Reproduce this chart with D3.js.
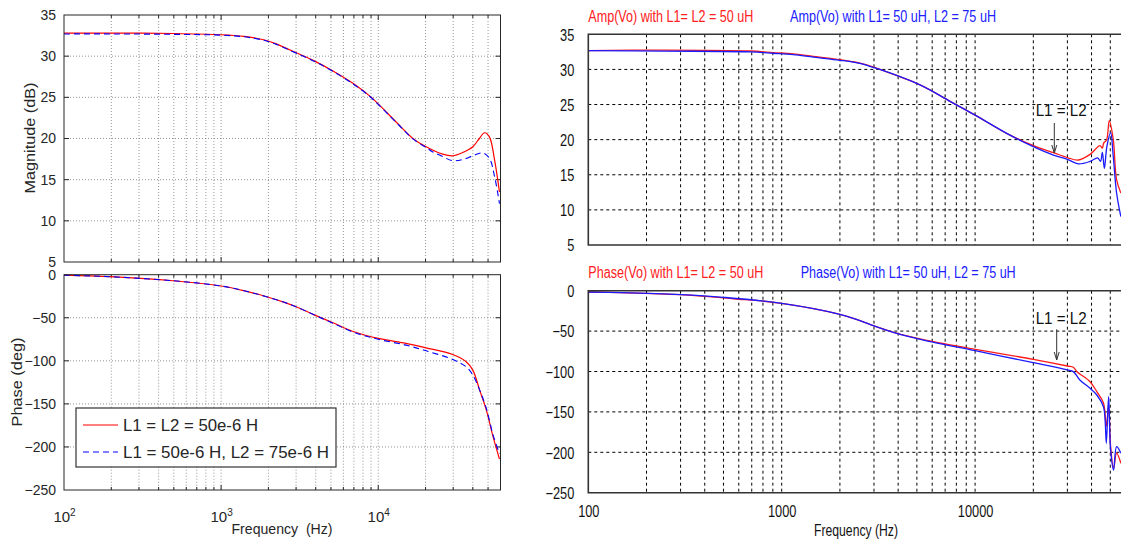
<!DOCTYPE html>
<html><head><meta charset="utf-8">
<script src="https://cdn.jsdelivr.net/npm/d3@7"></script>
<style>body{margin:0;background:#fff;} svg{display:block;font-family:Arial,"Liberation Sans",sans-serif;}</style>
</head><body><svg id="c" width="1121" height="547"></svg>
<script>
// ---------------- DATA ----------------
// Left (MATLAB-style) magnitude, dB
const lMagRedF  = [100,200,500,1000,1400,1700,1945,2200,2500,2985,3940,5150,6900,9040,10000,13650,16630,20170,25700,29800,34500,40000,44000,47450,51000,55000,59100];
const lMagRedV  = [32.8,32.8,32.75,32.6,32.4,32.15,31.9,31.55,31.1,30.45,29.4,28.2,26.7,25.0,24.2,21.6,20.0,19.0,18.1,17.9,18.3,19.0,20.0,20.7,20.2,17.4,13.5];
const lMagBlueF = [100,200,500,1000,1400,1700,1945,2200,2500,2985,3940,5150,6900,9040,10000,13650,16630,20170,22100,25700,29800,34500,40000,46300,51000,55000,59100];
const lMagBlueV = [32.7,32.7,32.65,32.55,32.35,32.1,31.85,31.5,31.05,30.4,29.35,28.15,26.65,24.95,24.15,21.55,19.95,18.9,18.4,17.8,17.3,17.45,17.9,18.25,17.6,15.4,12.1];
// Left phase, deg
const lPhRedF  = [100,196,495,1000,1400,1945,2500,3000,3940,5150,7000,10000,15000,20170,29800,36300,40000,44200,48700,53800,59100];
const lPhRedV  = [-0.5,-2.3,-7,-13.1,-18.6,-25.6,-31.8,-37.2,-46.9,-55.8,-66.3,-74,-79.8,-84.9,-92.6,-101,-110.8,-134,-157,-188,-214];
const lPhBlueF = [100,196,495,1000,1400,1945,2500,3000,3940,5150,7000,10000,15000,20170,29800,36300,40000,44200,48700,53800,59100];
const lPhBlueV = [-0.5,-2.3,-7,-13.1,-18.6,-25.6,-31.8,-37.2,-46.9,-56.3,-67,-75,-81.8,-88.4,-98.4,-107,-116.6,-134,-155,-186,-207.7];
// Right (simulator-style) magnitude, dB
const rMagRedF  = [100,247,689,904,1148,1456,1700,2000,2270,2540,2850,3220,5190,7710,10000,14560,20000,25400,30000,34200,39300,44200,45500,46200,47900,49400,51800,53900,56700];
const rMagRedV  = [32.67,32.75,32.62,32.4,32.2,31.85,31.65,31.4,31.15,30.9,30.5,30.0,27.8,25.2,23.5,20.9,19.15,18.15,17.45,17.1,17.9,19.15,18.8,19.5,20.0,22.7,20.0,14.3,12.4];
const rMagBlueF = [100,247,689,904,1148,1456,1700,2000,2270,2540,2850,3220,5190,7710,10000,14560,20000,25400,30000,34200,39300,43000,44500,45500,46600,48000,50200,51800,53900,56700];
const rMagBlueV = [32.67,32.6,32.5,32.3,32.1,31.75,31.55,31.3,31.1,30.85,30.45,30.0,27.8,25.2,23.5,20.9,19.0,17.8,17.2,16.55,16.9,17.4,16.9,18.2,15.9,19.0,21.0,17.6,12.4,9.05];
// Right phase, deg
const rPhRedF  = [100,146,300,499,600,700,1000,2000,2540,3000,3780,4500,5620,10000,20000,30000,32200,33600,39300,42600,46100,47700,49000,50200,52000,53900,56700];
const rPhRedV  = [-1.6,-2.4,-4.9,-8.8,-10.6,-11.6,-15.6,-29.2,-37.1,-43.5,-51.5,-56.3,-61.5,-72.5,-84.9,-93.2,-94.8,-100.2,-112.6,-125,-139,-168,-143,-193,-220,-201,-213.6];
const rPhBlueF = [100,146,300,499,1000,2000,2540,3000,3780,4500,5620,10000,20000,30000,32200,34800,39300,42600,46100,47000,47700,49000,50200,52000,53900,56700];
const rPhBlueV = [-1.6,-2.4,-4.9,-8.2,-15.6,-29.2,-37.1,-43.5,-51.5,-56.5,-62.0,-74.3,-89.1,-98.1,-100.2,-110.5,-120.8,-129.1,-143.6,-160,-188.9,-131,-197,-222,-193,-201];

const magTicks = [5,10,15,20,25,30,35];
const phTicks  = [-250,-200,-150,-100,-50,0];
const leftXTicks  = [100,1000,10000];
const rightXTicks = [100,1000,10000];
const legendLabels = ["L1 = L2 = 50e-6 H","L1 = 50e-6 H, L2 = 75e-6 H"];
const rightTitlesAmp = ["Amp(Vo) with L1= L2 = 50 uH","Amp(Vo) with L1= 50 uH, L2 = 75 uH"];
const rightTitlesPh  = ["Phase(Vo) with L1= L2 = 50 uH","Phase(Vo) with L1= 50 uH, L2 = 75 uH"];

const zip = (f,v) => f.map((d,i)=>({f:d,v:v[i]}));
const svg = d3.select('#c');
const smooth = d3.curveCatmullRom.alpha(0.5);

// ---------------- LEFT PANEL ----------------
const xL = d3.scaleLog().domain([100,60000]).range([64,500.5]);
const yLm = d3.scaleLinear().domain([5,35]).range([262,15]);
const yLp = d3.scaleLinear().domain([-250,0]).range([490,274.7]);
const gridTicksX = xL.ticks().filter(t=>t>100 && t<60000);

function leftAxes(y, ticks, x0, x1) {
  const g = svg.append('g');
  const yTop = y.range()[1], yBot = y.range()[0];
  g.selectAll('.gx').data(gridTicksX).enter().append('line')
    .attr('x1',d=>xL(d)).attr('x2',d=>xL(d)).attr('y1',yTop).attr('y2',yBot)
    .attr('stroke','#7a7a7a').attr('stroke-width',0.8).attr('stroke-dasharray','1,2');
  g.selectAll('.gy').data(ticks.slice(1,-1)).enter().append('line')
    .attr('x1',x0).attr('x2',x1).attr('y1',d=>y(d)).attr('y2',d=>y(d))
    .attr('stroke','#7a7a7a').attr('stroke-width',0.8).attr('stroke-dasharray','1,2');
  const minor = xL.ticks();
  minor.forEach(t=>{
    if (t<=100 || t>=60000) return;
    const len = leftXTicks.includes(t) ? 5 : 3;
    g.append('line').attr('x1',xL(t)).attr('x2',xL(t)).attr('y1',yBot).attr('y2',yBot-len).attr('stroke','#262626');
    g.append('line').attr('x1',xL(t)).attr('x2',xL(t)).attr('y1',yTop).attr('y2',yTop+len).attr('stroke','#262626');
  });
  ticks.slice(1,-1).forEach(t=>{
    g.append('line').attr('x1',x0).attr('x2',x0+5).attr('y1',y(t)).attr('y2',y(t)).attr('stroke','#262626');
    g.append('line').attr('x1',x1).attr('x2',x1-5).attr('y1',y(t)).attr('y2',y(t)).attr('stroke','#262626');
  });
  const ax = g.append('g').attr('transform',`translate(${x0},0)`)
    .call(d3.axisLeft(y).tickValues(ticks).tickSize(0).tickPadding(8));
  ax.select('.domain').remove();
  ax.selectAll('text').attr('font-size',14).attr('font-family','Arial,"Liberation Sans",sans-serif').attr('fill','#262626');
  return g;
}
leftAxes(yLm, magTicks, 64, 500.5);
leftAxes(yLp, phTicks, 64, 500.5);

const lineLm = d3.line().x(d=>xL(d.f)).y(d=>yLm(d.v)).curve(smooth);
const lineLp = d3.line().x(d=>xL(d.f)).y(d=>yLp(d.v)).curve(smooth);
svg.append('path').attr('d',lineLm(zip(lMagRedF,lMagRedV))).attr('fill','none').attr('stroke','#ff0000').attr('stroke-width',1.2);
svg.append('path').attr('d',lineLm(zip(lMagBlueF,lMagBlueV))).attr('fill','none').attr('stroke','#0000ff').attr('stroke-width',1.1).attr('stroke-dasharray','6,4');
svg.append('path').attr('d',lineLp(zip(lPhRedF,lPhRedV))).attr('fill','none').attr('stroke','#ff0000').attr('stroke-width',1.2);
svg.append('path').attr('d',lineLp(zip(lPhBlueF,lPhBlueV))).attr('fill','none').attr('stroke','#0000ff').attr('stroke-width',1.1).attr('stroke-dasharray','6,4');

[[15,262],[274.7,490]].forEach(([t,b])=>{
  svg.append('rect').attr('x',64).attr('y',t).attr('width',500.5-64).attr('height',b-t)
    .attr('fill','none').attr('stroke','#262626').attr('stroke-width',1);
});

const axL = svg.append('g').attr('transform','translate(0,505)')
  .call(d3.axisBottom(xL).tickValues(leftXTicks).tickSize(0).tickFormat(()=>''));
axL.select('.domain').remove();
axL.selectAll('text').each(function(d){
  const t = d3.select(this).attr('font-size',15).attr('fill','#262626').attr('dy','0.9em').attr('font-family','Arial,"Liberation Sans",sans-serif');
  t.text('10');
  t.append('tspan').attr('font-size',10).attr('dy',-6).text(Math.round(Math.log10(d)));
});
svg.append('text').attr('x',282).attr('y',534).attr('text-anchor','middle').attr('font-size',15)
  .attr('textLength',101).attr('lengthAdjust','spacingAndGlyphs').attr('fill','#262626').attr('xml:space','preserve').text('Frequency  (Hz)');
svg.append('text').attr('transform','translate(35,138) rotate(-90)').attr('text-anchor','middle').attr('font-size',15)
  .attr('textLength',111).attr('lengthAdjust','spacingAndGlyphs').attr('fill','#262626').text('Magnitude (dB)');
svg.append('text').attr('transform','translate(22,382) rotate(-90)').attr('text-anchor','middle').attr('font-size',15)
  .attr('textLength',89).attr('lengthAdjust','spacingAndGlyphs').attr('fill','#262626').text('Phase (deg)');

const lg = svg.append('g');
lg.append('rect').attr('x',76).attr('y',408).attr('width',260).attr('height',59).attr('fill','#fff').attr('stroke','#333').attr('stroke-width',1.2);
lg.append('line').attr('x1',83).attr('x2',118).attr('y1',425).attr('y2',425).attr('stroke','#ff0000').attr('stroke-width',1.2);
lg.append('line').attr('x1',83).attr('x2',118).attr('y1',452).attr('y2',452).attr('stroke','#0000ff').attr('stroke-width',1.1).attr('stroke-dasharray','6,4');
lg.append('text').attr('x',123).attr('y',431).attr('font-size',17).attr('textLength',135).attr('lengthAdjust','spacingAndGlyphs').attr('fill','#262626').text(legendLabels[0]);
lg.append('text').attr('x',123).attr('y',458).attr('font-size',17).attr('textLength',206).attr('lengthAdjust','spacingAndGlyphs').attr('fill','#262626').text(legendLabels[1]);

// ---------------- RIGHT PANEL ----------------
const xR = d3.scaleLog().domain([100,60000]).range([588.3,1125.6]);
const yRm = d3.scaleLinear().domain([5,35]).range([245,34.3]);
const yRp = d3.scaleLinear().domain([-250,0]).range([492.7,290.7]);
const gridR = xR.ticks().filter(t=>t>100 && t<60000);
const rFont = 'Arial,"Liberation Sans",sans-serif';

function rightAxes(y, ticks) {
  const g = svg.append('g');
  const yTop = y.range()[1], yBot = y.range()[0];
  g.selectAll('.gx').data(gridR).enter().append('line')
    .attr('x1',d=>xR(d)).attr('x2',d=>xR(d)).attr('y1',yTop).attr('y2',yBot)
    .attr('stroke','#000').attr('stroke-width',1).attr('stroke-dasharray','3,3');
  g.selectAll('.gy').data(ticks.slice(1,-1)).enter().append('line')
    .attr('x1',588.3).attr('x2',1125).attr('y1',d=>y(d)).attr('y2',d=>y(d))
    .attr('stroke','#000').attr('stroke-width',1).attr('stroke-dasharray','3,3');
  const ax = g.append('g').attr('transform','translate(588.3,0)')
    .call(d3.axisLeft(y).tickValues(ticks).tickSize(0));
  ax.select('.domain').remove();
  ax.selectAll('text').attr('x',0).attr('dy','0.36em').attr('font-size',16).attr('font-family',rFont).attr('fill','#111')
    .attr('transform','translate(-14,0) scale(0.8,1)');
  return g;
}
rightAxes(yRm, magTicks);
rightAxes(yRp, phTicks);

const lineRm = d3.line().x(d=>xR(d.f)).y(d=>yRm(d.v)).curve(smooth);
const lineRp = d3.line().x(d=>xR(d.f)).y(d=>yRp(d.v)).curve(smooth);
svg.append('path').attr('d',lineRm(zip(rMagRedF,rMagRedV))).attr('fill','none').attr('stroke','#ff1a1a').attr('stroke-width',1.3);
svg.append('path').attr('d',lineRm(zip(rMagBlueF,rMagBlueV))).attr('fill','none').attr('stroke','#1a1aff').attr('stroke-width',1.3);
svg.append('path').attr('d',lineRp(zip(rPhRedF,rPhRedV))).attr('fill','none').attr('stroke','#ff1a1a').attr('stroke-width',1.3);
svg.append('path').attr('d',lineRp(zip(rPhBlueF,rPhBlueV))).attr('fill','none').attr('stroke','#1a1aff').attr('stroke-width',1.3);

[[34.3,245],[290.7,492.7]].forEach(([t,b])=>{
  svg.append('path').attr('d',`M1125,${t}H588.3V${b}H1125`).attr('fill','none').attr('stroke','#333').attr('stroke-width',1.6);
});

const axR = svg.append('g').attr('transform','translate(0,506)')
  .call(d3.axisBottom(xR).tickValues(rightXTicks).tickSize(0).tickFormat(d3.format('d')));
axR.select('.domain').remove();
axR.selectAll('text').attr('y',0).attr('dy','0.71em').attr('font-size',16).attr('font-family',rFont).attr('fill','#111')
  .attr('transform','scale(0.8,1)');
svg.append('text').attr('x',856).attr('y',536).attr('text-anchor','middle').attr('font-size',17).attr('font-family',rFont)
  .attr('textLength',84).attr('lengthAdjust','spacingAndGlyphs').attr('fill','#111').text('Frequency (Hz)');

const titles = [
  {t:rightTitlesAmp[0], x:588.3, y:21.5, w:165, c:'#ff2020'},
  {t:rightTitlesAmp[1], x:790, y:21.5, w:206, c:'#2020ff'},
  {t:rightTitlesPh[0], x:588.3, y:278, w:175, c:'#ff2020'},
  {t:rightTitlesPh[1], x:800.7, y:278, w:215, c:'#2020ff'}
];
titles.forEach(o=>{
  svg.append('text').attr('x',o.x).attr('y',o.y).attr('font-size',16).attr('font-family',rFont)
    .attr('textLength',o.w).attr('lengthAdjust','spacingAndGlyphs').attr('fill',o.c).text(o.t);
});

function annot(tx, ty, ax, ay1, ay2){
  svg.append('text').attr('x',tx).attr('y',ty).attr('font-size',17).attr('font-family',rFont)
    .attr('textLength',51).attr('lengthAdjust','spacingAndGlyphs').attr('fill','#111').text('L1 = L2');
  svg.append('line').attr('x1',ax).attr('x2',ax).attr('y1',ay1).attr('y2',ay2).attr('stroke','#333').attr('stroke-width',1);
  svg.append('path').attr('d',`M${ax-2.5},${ay2-8}L${ax},${ay2}L${ax+2.5},${ay2-8}`).attr('fill','none').attr('stroke','#333').attr('stroke-width',1);
}
annot(1035.7, 116, 1054.3, 123, 153);
annot(1035.7, 324, 1056.7, 329.3, 360);
</script></body></html>
